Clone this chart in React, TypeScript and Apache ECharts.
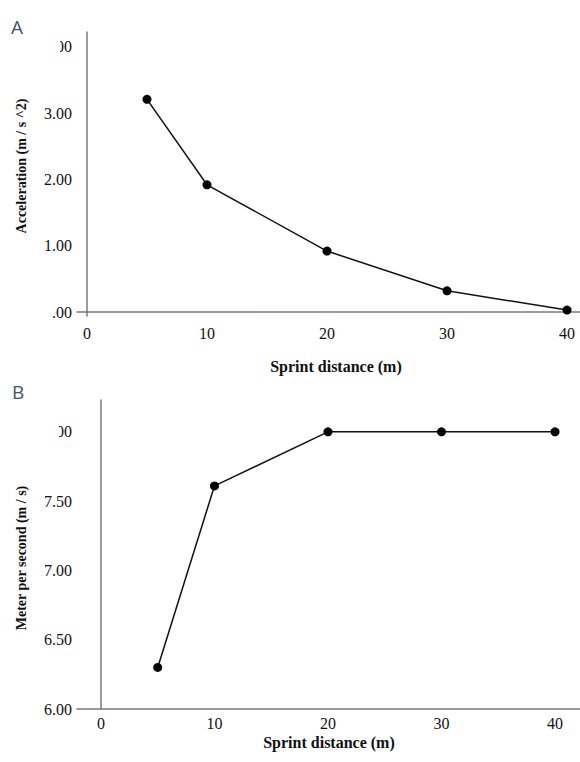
import React, { useEffect, useRef } from "react";
import * as echarts from "echarts";

const distances = [5, 10, 20, 30, 40];
const acceleration = [3.21, 1.92, 0.92, 0.32, 0.03];
const speed = [6.3, 7.61, 8.0, 8.0, 8.0];
const xTicks = [0, 10, 20, 30, 40];
const accelTicks = [0, 1, 2, 3, 4];
const speedTicks = [6, 6.5, 7, 7.5, 8];
const xTitle = "Sprint distance (m)";
const accelTitle = "Acceleration (m / s ^2)";
const speedTitle = "Meter per second (m / s)";

const SERIF = "'Liberation Serif', 'Times New Roman', serif";

export default function App() {
  const ref = useRef<HTMLDivElement>(null);
  useEffect(() => {
    if (!ref.current) return;
    const chart = echarts.init(ref.current, undefined, { renderer: "svg" });
    const axisLine = { show: true, lineStyle: { color: "#7a7a7a", width: 1.5 } };
    const labelBase = { color: "#111", fontFamily: SERIF, fontSize: 16 };
    const xAxisCommon = (min: number, max: number, idx: number, margin: number) => ({
      type: "value",
      gridIndex: idx,
      min,
      max,
      axisLine,
      axisTick: { show: false },
      splitLine: { show: false },
      axisLabel: { ...labelBase, customValues: xTicks, margin },
    });
    const lineSeries = (idx: number, vals: number[]) => ({
      type: "line",
      xAxisIndex: idx,
      yAxisIndex: idx,
      data: distances.map((d, i) => [d, vals[i]]),
      symbol: "circle",
      symbolSize: 9,
      itemStyle: { color: "#000" },
      lineStyle: { color: "#111", width: 1.5 },
      clip: false,
    });
    chart.setOption({
      animation: false,
      backgroundColor: "#fff",
      grid: [
        { left: 77, top: 32, width: 503, height: 284 },
        { left: 77, top: 400, width: 503, height: 309 },
      ],
      xAxis: [xAxisCommon(-0.833, 41.08, 0, 9), xAxisCommon(-2.11, 42.2, 1, 6)],
      yAxis: [
        {
          type: "value",
          gridIndex: 0,
          min: -0.06,
          max: 4.226,
          axisLine,
          axisTick: { show: false },
          splitLine: { show: false },
          axisLabel: {
            ...labelBase,
            customValues: accelTicks,
            margin: 5,
            formatter: (v: number) => (v === 0 ? ".00" : v.toFixed(2)),
          },
        },
        {
          type: "value",
          gridIndex: 1,
          min: 6,
          max: 8.23,
          axisLine,
          axisTick: { show: false },
          splitLine: { show: false },
          axisLabel: {
            ...labelBase,
            customValues: speedTicks,
            margin: 5,
            formatter: (v: number) => v.toFixed(2),
          },
        },
      ],
      series: [lineSeries(0, acceleration), lineSeries(1, speed)],
      graphic: [
        { type: "rect", z: 100, shape: { x: 28, y: 36, width: 32, height: 22 }, style: { fill: "#fff" } },
        { type: "rect", z: 100, shape: { x: 28, y: 421, width: 31, height: 22 }, style: { fill: "#fff" } },
        {
          type: "text", z: 101, x: 11, y: 27,
          style: { text: "A", fill: "#44546a", font: "19px 'Open Sans', sans-serif", verticalAlign: "middle" },
        },
        {
          type: "text", z: 101, x: 12, y: 392,
          style: { text: "B", fill: "#44546a", font: "19px 'Open Sans', sans-serif", verticalAlign: "middle" },
        },
        {
          type: "text", x: 336, y: 366,
          style: { text: xTitle, fill: "#111", font: `bold 16px ${SERIF}`, align: "center", verticalAlign: "middle" },
        },
        {
          type: "text", x: 329, y: 742,
          style: { text: xTitle, fill: "#111", font: `bold 16px ${SERIF}`, align: "center", verticalAlign: "middle" },
        },
        {
          type: "text", x: 21, y: 166, rotation: Math.PI / 2,
          style: { text: accelTitle, fill: "#111", font: `bold 14px ${SERIF}`, align: "center", verticalAlign: "middle" },
        },
        {
          type: "text", x: 21, y: 558, rotation: Math.PI / 2,
          style: { text: speedTitle, fill: "#111", font: `bold 14px ${SERIF}`, align: "center", verticalAlign: "middle" },
        },
      ],
    });
    return () => chart.dispose();
  }, []);
  return (
    <div
      ref={ref}
      style={{ position: "fixed", left: 0, top: 0, width: 580, height: 762, background: "#fff" }}
    />
  );
}
